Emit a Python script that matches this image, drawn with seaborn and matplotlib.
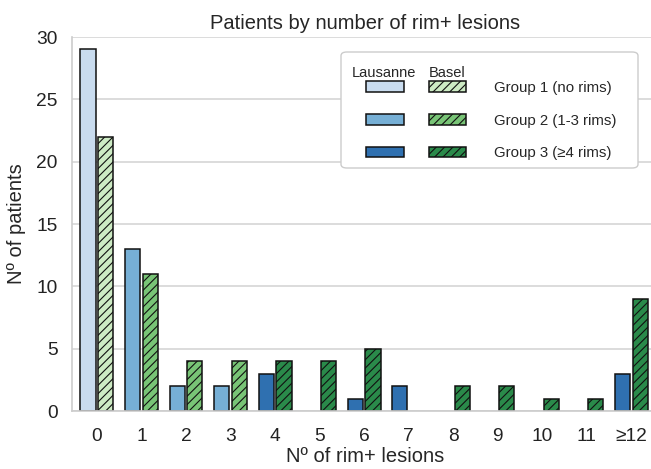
import pandas as pd
import matplotlib.pyplot as plt
import seaborn as sns
from matplotlib.patches import Patch, FancyBboxPatch
from matplotlib.legend_handler import HandlerTuple

# --- data ---
categories = ["0", "1", "2", "3", "4", "5", "6", "7", "8", "9", "10", "11", "≥12"]
lausanne = [29, 13, 2, 2, 3, 0, 1, 2, 0, 0, 0, 0, 3]
basel = [22, 11, 4, 4, 4, 4, 5, 0, 2, 2, 1, 1, 9]
group_of_cat = [0, 1, 1, 1, 2, 2, 2, 2, 2, 2, 2, 2, 2]
group_labels = ["Group 1 (no rims)", "Group 2 (1-3 rims)", "Group 3 (≥4 rims)"]
sites = ["Lausanne", "Basel"]

blues = ["#c9dcef", "#76afd5", "#2f70b0"]
greens = ["#cdebc4", "#78c476", "#2a8a4a"]

df = pd.DataFrame({
    "lesions": categories * 2,
    "count": lausanne + basel,
    "site": ["Lausanne"] * len(categories) + ["Basel"] * len(categories),
})

sns.set_style("whitegrid")
plt.rcParams["font.family"] = ["Liberation Sans", "DejaVu Sans"]
plt.rcParams["hatch.linewidth"] = 0.8

fig = plt.figure(figsize=(6.51, 4.69), dpi=100)
ax = fig.add_axes([72 / 651, 58 / 469, 586 / 651, 374 / 469])

sns.barplot(data=df, x="lesions", y="count", hue="site", order=categories,
            hue_order=sites, width=0.8, gap=0.15, edgecolor="black",
            linewidth=1.1, legend=False, ax=ax)

# recolour each bar by group, hatch Basel, hide empty bars
for site_i, cont in enumerate(ax.containers):
    pal = blues if site_i == 0 else greens
    for bar, g in zip(cont, group_of_cat):
        bar.set_facecolor(pal[g])
        bar.set_edgecolor("#111111")
        if site_i == 1:
            bar.set_hatch("////")
        if bar.get_height() == 0:
            bar.set_visible(False)

ax.set_ylim(0, 30)
ax.set_xlim(-0.56, 12.6)
ax.set_yticks(range(0, 31, 5))
ax.grid(axis="y", color="#d6d6d6", linewidth=1.2)
ax.grid(axis="x", visible=False)
ax.set_axisbelow(True)
for s in ["top", "right"]:
    ax.spines[s].set_visible(False)
for s in ["left", "bottom"]:
    ax.spines[s].set_color("#cccccc")
    ax.spines[s].set_linewidth(1.2)
ax.tick_params(axis="both", labelsize=13.8, colors="#222222")
ax.tick_params(axis="x", pad=9)
ax.tick_params(axis="y", pad=7)

ax.set_title("Patients by number of rim+ lesions", fontsize=14.5, pad=6)
ax.set_xlabel("Nº of rim+ lesions", fontsize=14.5)
ax.set_ylabel("Nº of patients", fontsize=14.5)
ax.xaxis.set_label_coords(0.5, -0.097)
ax.yaxis.set_label_coords(-0.079, 0.5)

# legend: Lausanne / Basel pairs per group
frame = FancyBboxPatch(((341 - 72) / 586, (411 - 168) / 374),
                       (638 - 341) / 586, (168 - 52) / 374,
                       boxstyle="round,pad=0,rounding_size=0.01",
                       transform=ax.transAxes, facecolor="white",
                       edgecolor="#cccccc", linewidth=1.0, zorder=4)
ax.add_patch(frame)
handles = []
for g in range(3):
    handles.append((Patch(facecolor=blues[g], edgecolor="#111111", linewidth=1.1),
                    Patch(facecolor=greens[g], edgecolor="#111111", linewidth=1.1,
                          hatch="////")))
ax.legend(handles, group_labels, loc="upper left",
          bbox_to_anchor=((366 - 72) / 586, (411 - 81) / 374),
          frameon=False, fontsize=10.8, borderpad=0, borderaxespad=0,
          handlelength=6.67, handleheight=0.7, handletextpad=1.87,
          labelspacing=1.24,
          handler_map={tuple: HandlerTuple(ndivide=None, pad=1.67)})
for name, xc in zip(sites, [384, 447]):
    ax.text((xc - 72) / 586, (411 - 73) / 374, name, transform=ax.transAxes,
            ha="center", va="center", fontsize=10.5, zorder=6)

fig.savefig("out.png", dpi=100)
